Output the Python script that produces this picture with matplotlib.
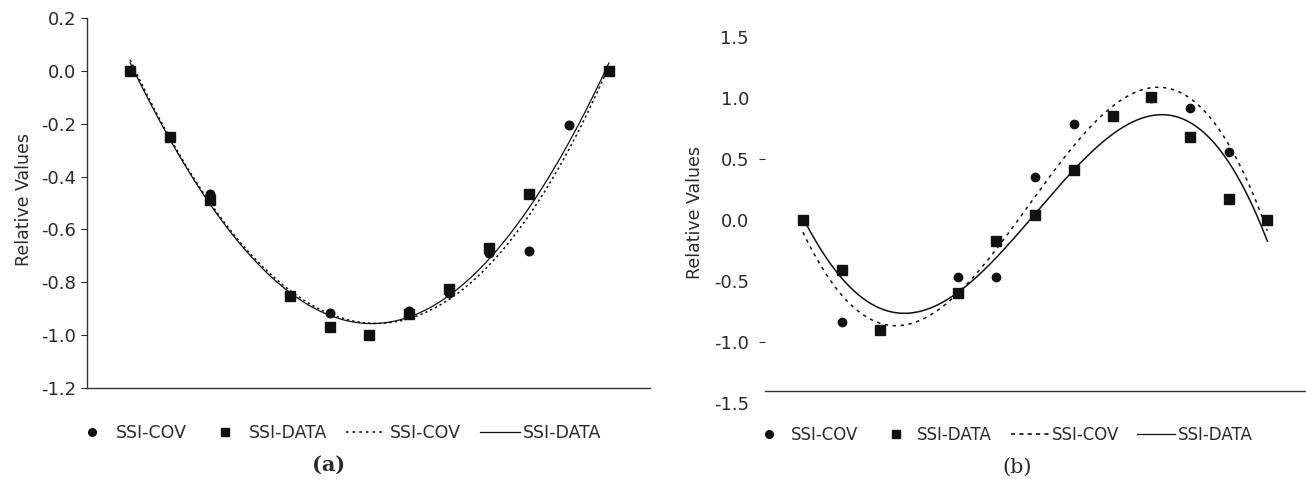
import numpy as np
import matplotlib
matplotlib.use("Agg")
import matplotlib.pyplot as plt
from matplotlib.lines import Line2D

# ---------------- data ----------------
# panel (a)
a_x = [0, 1, 2, 4, 5, 6, 7, 8, 9, 10, 11, 12]
a_cov = [0.0, -0.25, -0.465, -0.85, -0.917, np.nan, -0.91, -0.84, -0.69, -0.68, -0.204, 0.0]
a_data = [0.0, -0.25, -0.487, -0.85, -0.971, -1.0, -0.92, -0.826, -0.67, -0.465, np.nan, 0.0]
# trend lines at x = 0..12
trend_x = list(range(13))
a_cov_trend = [0.04, -0.25, -0.50, -0.69, -0.83, -0.92, -0.955, -0.94, -0.86, -0.73, -0.55, -0.30, 0.02]
a_data_trend = [0.03, -0.26, -0.50, -0.70, -0.84, -0.925, -0.955, -0.93, -0.85, -0.71, -0.52, -0.27, 0.03]
a_yticks = [0.2, 0.0, -0.2, -0.4, -0.6, -0.8, -1.0, -1.2]

# panel (b)
b_x = [0, 1, 2, 4, 5, 6, 7, 8, 9, 10, 11, 12]
b_cov = [0.0, -0.84, -0.90, -0.467, -0.47, 0.35, 0.79, 0.85, 1.0, 0.92, 0.56, 0.0]
b_data = [0.0, -0.41, -0.90, -0.60, -0.17, 0.04, 0.41, 0.85, 1.01, 0.68, 0.17, 0.0]
b_cov_trend = [-0.115, -0.57, -0.875, -0.84, -0.62, -0.20, 0.21, 0.59, 0.92, 1.075, 1.016, 0.62, -0.09]
b_data_trend = [0.0, -0.42, -0.76, -0.77, -0.60, -0.28, 0.06, 0.40, 0.716, 0.845, 0.757, 0.53, -0.19]
b_yticks = [1.5, 1.0, 0.5, 0.0, -0.5, -1.0, -1.5]

labels = ["SSI-COV", "SSI-DATA", "SSI-COV", "SSI-DATA"]

# ---------------- style ----------------
TXT = "#2a2a2a"
MK = "#111111"
plt.rcParams["font.family"] = ["DejaVu Sans"]
plt.rcParams["text.color"] = TXT
plt.rcParams["axes.labelcolor"] = TXT
plt.rcParams["xtick.color"] = TXT
plt.rcParams["ytick.color"] = TXT

W, H = 1306, 496
fig = plt.figure(figsize=(W / 100, H / 100), dpi=100)


def smooth(xs, ys, deg):
    c = np.polyfit(xs, ys, deg)
    xf = np.linspace(min(xs), max(xs), 300)
    return xf, np.polyval(c, xf)


# ---------------- panel (a) ----------------
axa = fig.add_axes([87 / W, 1 - 388 / H, (650 - 87) / W, (388 - 18) / H])
axa.set_xlim(-1.08, 13.03)
axa.set_ylim(-1.2, 0.2)
xf, yf = smooth(trend_x, a_cov_trend, 4)
axa.plot(xf, yf, color=MK, lw=1.1, ls=(0, (1.5, 2.0)))
xf, yf = smooth(trend_x, a_data_trend, 4)
axa.plot(xf, yf, color=MK, lw=0.9, ls="-")
axa.plot(a_x, a_cov, ls="none", marker="o", ms=6.2, color=MK)
axa.plot(a_x, a_data, ls="none", marker="s", ms=7, color=MK)
axa.set_yticks(a_yticks)
axa.set_yticklabels([f"{v:.1f}" for v in a_yticks])
axa.set_xticks([])
axa.tick_params(axis="y", direction="out", length=4.5, width=0.8, pad=3.5, labelsize=13)
for s in ["top", "right"]:
    axa.spines[s].set_visible(False)
for s in ["left", "bottom"]:
    axa.spines[s].set_color("#333333")
    axa.spines[s].set_linewidth(1.0)
axa.set_ylabel("Relative Values", fontsize=12.5)
axa.yaxis.set_label_coords(-0.096, 0.51)

# ---------------- panel (b) ----------------
axb = fig.add_axes([765 / W, 1 - 403 / H, (W - 765) / W, (403 - 37) / H])
axb.set_xlim(-0.98, 13.0)
axb.set_ylim(-1.5, 1.5)
xf, yf = smooth(trend_x, b_cov_trend, 5)
axb.plot(xf, yf, color=MK, lw=1.1, ls=(0, (2.2, 3.0)))
xf, yf = smooth(trend_x, b_data_trend, 5)
axb.plot(xf, yf, color=MK, lw=1.1, ls="-")
axb.plot(b_x, b_cov, ls="none", marker="o", ms=6, color=MK)
axb.plot(b_x, b_data, ls="none", marker="s", ms=7, color=MK)
axb.set_yticks(b_yticks)
axb.set_yticklabels([f"{v:.1f}" for v in b_yticks])
axb.set_xticks([])
axb.tick_params(axis="y", direction="out", length=4.5, width=0.8, pad=7, labelsize=13)
for v, t in zip(b_yticks, axb.yaxis.get_major_ticks()):
    if v not in (0.5, -1.0):
        t.tick1line.set_visible(False)
for s in ["top", "right", "left"]:
    axb.spines[s].set_visible(False)
axb.spines["bottom"].set_position(("data", -1.4))
axb.spines["bottom"].set_color("#333333")
axb.spines["bottom"].set_linewidth(1.0)
axb.set_ylabel("Relative Values", fontsize=12.5)
axb.yaxis.set_label_coords(-0.113, 0.52)

# ---------------- legends ----------------
def make_handles(dotted):
    return [
        Line2D([], [], ls="none", marker="o", ms=5.5, color=MK),
        Line2D([], [], ls="none", marker="s", ms=6, color=MK),
        Line2D([], [], color=MK, lw=1.2, ls=dotted),
        Line2D([], [], color=MK, lw=0.9, ls="-"),
    ]

fig.legend(make_handles((0, (1.5, 2.5))), labels, loc="center left",
           bbox_to_anchor=(72 / W, 1 - 433 / H), ncol=4, frameon=False,
           fontsize=12.5, handlelength=2.3, handletextpad=0.2,
           columnspacing=1.1, borderpad=0, borderaxespad=0)
fig.legend(make_handles((0, (2.5, 2.5))), labels, loc="center left",
           bbox_to_anchor=(750 / W, 1 - 435 / H), ncol=4, frameon=False,
           fontsize=12, handlelength=2.3, handletextpad=0.15,
           columnspacing=1.1, borderpad=0, borderaxespad=0)

# ---------------- panel captions ----------------
fig.text(329 / W, 1 - 465 / H, "(a)", family="DejaVu Serif", weight="bold",
         fontsize=15, ha="center", va="center")
fig.text(1017 / W, 1 - 467 / H, "(b)", family="DejaVu Serif",
         fontsize=15, ha="center", va="center")

fig.savefig("out.png", dpi=100)
